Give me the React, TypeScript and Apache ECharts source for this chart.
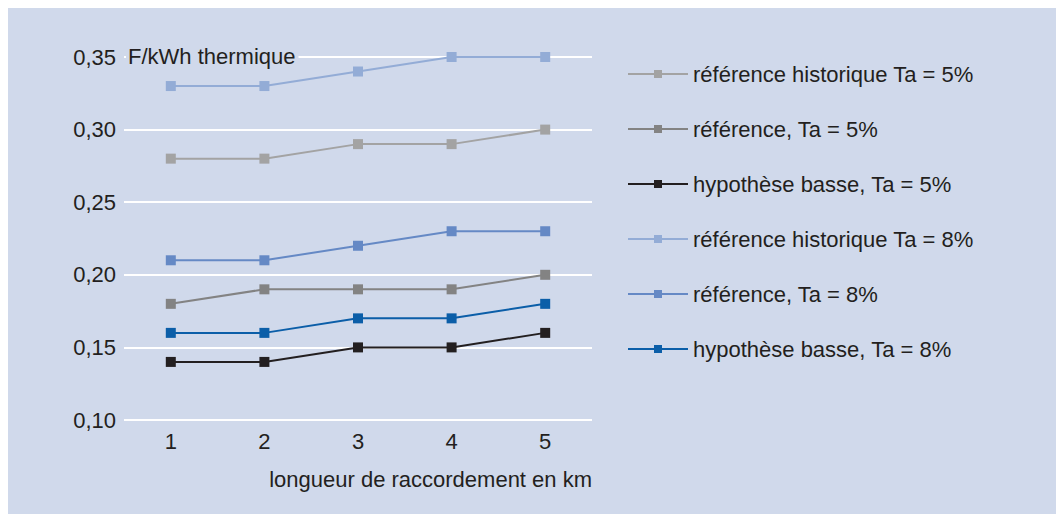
import React, { useEffect, useRef } from "react";
import * as echarts from "echarts";

const categories = ["1", "2", "3", "4", "5"];
const seriesNames = [
  "référence historique Ta = 5%",
  "référence, Ta = 5%",
  "hypothèse basse, Ta = 5%",
  "référence historique Ta = 8%",
  "référence, Ta = 8%",
  "hypothèse basse, Ta = 8%",
];
const refHist5 = [0.28, 0.28, 0.29, 0.29, 0.3];
const ref5 = [0.18, 0.19, 0.19, 0.19, 0.2];
const basse5 = [0.14, 0.14, 0.15, 0.15, 0.16];
const refHist8 = [0.33, 0.33, 0.34, 0.35, 0.35];
const ref8 = [0.21, 0.21, 0.22, 0.23, 0.23];
const basse8 = [0.16, 0.16, 0.17, 0.17, 0.18];
const seriesData = [refHist5, ref5, basse5, refHist8, ref8, basse8];
const colors = ["#a3a3a3", "#838383", "#231f20", "#93acd6", "#6589c5", "#0b5ea8"];
const yUnit = "F/kWh thermique";
const xName = "longueur de raccordement en km";

const BG = "#d0d9eb";
const FONT = "'Liberation Sans', Arial, sans-serif";
const FS = 22;

export default function App() {
  const ref = useRef<HTMLDivElement>(null);
  useEffect(() => {
    document.body.style.overflow = "hidden";
    const chart = echarts.init(ref.current!, null, { renderer: "svg" });
    chart.setOption({
      animation: false,
      backgroundColor: BG,
      textStyle: { fontFamily: FONT },
      grid: { left: 116, right: 472, top: 49, bottom: 94, containLabel: false },
      xAxis: {
        type: "category",
        data: categories,
        boundaryGap: true,
        axisLine: { show: false },
        axisTick: { show: false },
        axisLabel: { color: "#231f20", fontSize: FS, margin: 10, fontFamily: FONT },
      },
      yAxis: {
        type: "value",
        min: 0.1,
        max: 0.35,
        interval: 0.05,
        axisLine: { show: false },
        axisTick: { show: false },
        splitLine: { lineStyle: { color: "#ffffff", width: 2 } },
        axisLabel: {
          color: "#231f20",
          fontSize: FS,
          margin: 8,
          fontFamily: FONT,
          formatter: (v: number) => v.toFixed(2).replace(".", ","),
        },
      },
      legend: {
        orient: "vertical",
        left: 614,
        top: 50,
        itemWidth: 60,
        itemHeight: 10,
        itemGap: 33,
        textStyle: { color: "#231f20", fontSize: FS, fontFamily: FONT },
        data: seriesNames,
      },
      graphic: [
        {
          type: "text",
          left: 118,
          top: 35,
          z: 100,
          style: {
            text: yUnit,
            fill: "#231f20",
            font: `${FS}px ${FONT}`,
            backgroundColor: BG,
            padding: [2, 3, 2, 2],
          },
        },
        {
          type: "text",
          right: 472,
          top: 460,
          style: {
            text: xName,
            fill: "#231f20",
            font: `${FS}px ${FONT}`,
          },
        },
      ],
      series: seriesNames.map((name, i) => ({
        name,
        type: "line",
        data: seriesData[i],
        symbol: "rect",
        symbolSize: 10,
        color: colors[i],
        lineStyle: { width: 2, color: colors[i] },
        itemStyle: { color: colors[i] },
      })),
    });
    return () => chart.dispose();
  }, []);
  return <div ref={ref} style={{ width: 1056, height: 506 }} />;
}
